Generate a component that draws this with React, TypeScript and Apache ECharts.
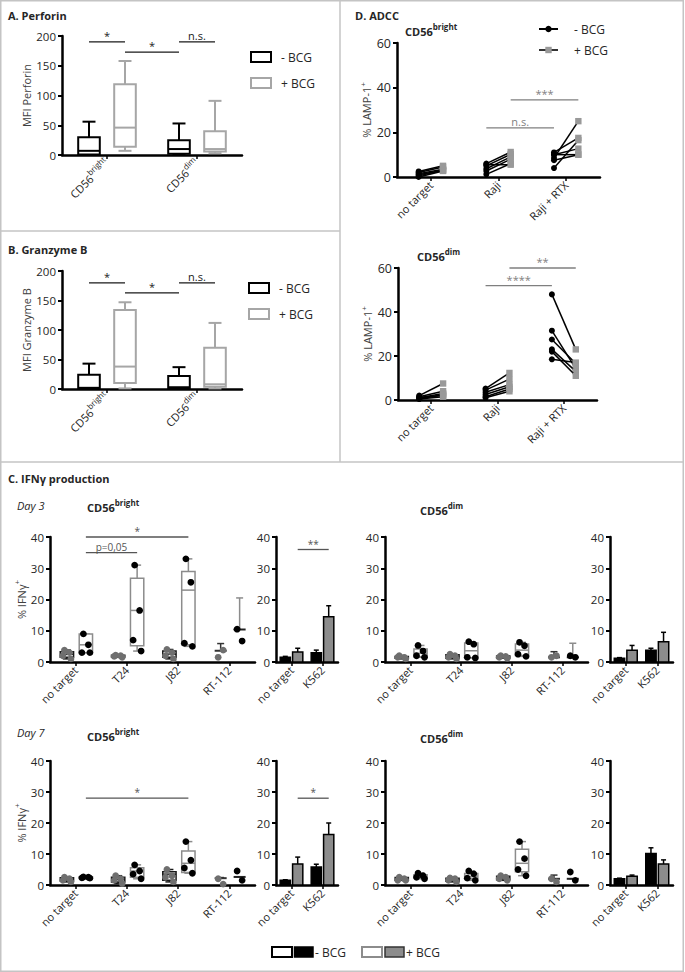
import React, { useEffect, useRef } from 'react';
import * as echarts from 'echarts';

const FONT = '"Open Sans", "DejaVu Sans", Arial, sans-serif';
const TEXT = '#262626';
const BORDER = '#c4c4c4';
const GRAY_BOX = '#a6a6a6';
const GRAY_C = '#8c8c8c';
const GRAY_DOT = '#6f6f6f';

// ---------------- Panels A / B ----------------
const abCategories = ['CD56bright', 'CD56dim'];
// [min, q1, median, q3, max]
const perforinMinusBCG = [[1, 1, 7, 30, 56], [0, 2, 10, 25, 53]];
const perforinPlusBCG = [[7, 14, 46, 119, 158], [3, 6, 10, 40, 91]];
const granzymeMinusBCG = [[0, 0, 2, 24, 43], [0, 1, 3, 22, 37]];
const granzymePlusBCG = [[1, 10, 38, 134, 147], [1, 4, 8, 70, 112]];
// [fromCat, fromSide, toCat, toSide, y]
const perforinSig = [[0, -1, 0, 1, 190], [0, 1, 1, -1, 173], [1, -1, 1, 1, 190]];
const perforinSigLabels = ['*', '*', 'n.s.'];
const granzymeSig = [[0, -1, 0, 1, 180], [0, 1, 1, -1, 163], [1, -1, 1, 1, 180]];
const granzymeSigLabels = ['*', '*', 'n.s.'];

// ---------------- Panel D (ADCC) ----------------
const adccCategories = ['no target', 'Raji', 'Raji + RTX'];
const adccBrightMinus = [[2.5, 2, 1.5, 1, 0.5, 0], [6, 5, 3.7, 2.7, 1.2, 5.5], [8.5, 11, 10, 4, 7.5, 10]];
const adccBrightPlus = [[5, 4.5, 3.5, 3, 3, 2.7], [11.2, 10.2, 9, 8, 6, 5.5], [25, 17.5, 12.7, 16.5, 10, 10]];
const adccBrightSig = [[1, -1, 2, -1, 22], [1, 1, 2, 1, 34.5]];
const adccBrightSigLabels = ['n.s.', '***'];
const adccDimMinus = [[2, 1.5, 1, 0.5, 1, 0.5], [5.2, 4.5, 3.5, 2.5, 1.5, 1], [48, 31.5, 27.5, 23, 22, 18.5]];
const adccDimPlus = [[7.5, 4, 3, 2.5, 2, 1.5], [12.3, 9.5, 7, 6, 5, 4], [23, 14.3, 16.6, 13, 11, 17]];
const adccDimSig = [[1, -1, 2, -1, 52], [1, 1, 2, 1, 60]];
const adccDimSigLabels = ['****', '**'];

// ---------------- Panel C (IFNγ) ----------------
const cCategories = ['no target', 'T24', 'J82', 'RT-112'];
const kCategories = ['no target', 'K562'];

// Day 3 – CD56bright
const d3BrightMinusDots = [[3.8, 3, 2, 1], [2.2, 2, 1.8, 1.5], [4, 3, 2, 1], [1.5, 3.8]];
const d3BrightPlusDots = [[9, 5.5, 3, 3], [31, 16.5, 7, 3.5], [33, 25.5, 6, 5], [10.5, 6.7]];
const d3BrightMinusBox = [[1, 1.5, 2.5, 3.3, 3.8], [1.5, 1.6, 1.9, 2.2, 2.2], [1, 1.5, 2.5, 3.5, 4]];
const d3BrightPlusBox = [[3, 3, 5.5, 9, 9], [3.5, 5.2, 16.5, 26.8, 31], [5, 5.5, 23, 29, 33]];
const d3BrightMinusMeanSd = [3.6, 2.3];
const d3BrightPlusMeanSd = [10.4, 10.1];
const d3BrightSig = [[0, 1, 2, 1, 40], [0, 1, 1, 1, 35]];
const d3BrightSigLabels = ['*', 'p=0,05'];
const d3BrightK562Minus = [[1.5, 0.3], [3, 0.8]];
const d3BrightK562Plus = [[3.2, 1.2], [14.5, 3.5]];
const d3BrightK562Sig = [[0, 1, 1, 1, 36]];
const d3BrightK562SigLabels = ['**'];

// Day 3 – CD56dim
const d3DimMinusDots = [[2, 1.5, 1.5, 1], [2.5, 2, 1.5, 1], [2, 1.8, 1.5, 1.2], [1.5, 2]];
const d3DimPlusDots = [[5.3, 3.5, 2, 1.5], [6.5, 5.7, 1.5, 1.3], [6.3, 5.2, 2.5, 1.8], [2, 1.5]];
const d3DimMinusBox = [[1, 1.2, 1.5, 1.8, 2], [1, 1.2, 1.7, 2.3, 2.5], [1.2, 1.3, 1.6, 1.9, 2]];
const d3DimPlusBox = [[1.5, 1.7, 2.8, 4.2, 5.3], [1.3, 1.4, 3.6, 6.1, 6.5], [1.8, 2.1, 3.8, 5.8, 6.3]];
const d3DimMinusMeanSd = [1.5, 1.8];
const d3DimPlusMeanSd = [1.5, 4.5];
const d3DimK562Minus = [[1.2, 0.2], [3.8, 0.6]];
const d3DimK562Plus = [[3.8, 1.5], [6.5, 3]];

// Day 7 – CD56bright
const d7BrightMinusDots = [[2.5, 2, 1.5, 1], [3, 2, 1.5, 0.5], [5, 3, 2.5, 1], [2, 0.3]];
const d7BrightPlusDots = [[2.6, 2.5, 2.3, 2.2], [6.5, 4.5, 3.5, 2], [14, 8, 5.5, 3.8], [4.5, 1.5]];
const d7BrightMinusBox = [[1, 1.3, 1.8, 2.3, 2.5], [0.5, 1, 1.8, 2.5, 3], [1, 1.5, 3.5, 4.3, 5]];
const d7BrightPlusBox = [[2.2, 2.2, 2.4, 2.6, 2.6], [2, 2.5, 4.5, 5.6, 6.5], [3.8, 4, 7, 11, 14]];
const d7BrightMinusMeanSd = [2.2, 0.2];
const d7BrightPlusMeanSd = [2.6, 0];
const d7BrightSig = [[0, 1, 2, 1, 28]];
const d7BrightSigLabels = ['*'];
const d7BrightK562Minus = [[1.5, 0.2], [5.8, 0.9]];
const d7BrightK562Plus = [[6.8, 2.2], [16.3, 3.7]];
const d7BrightK562Sig = [[0, 1, 1, 1, 28]];
const d7BrightK562SigLabels = ['*'];

// Day 7 – CD56dim
const d7DimMinusDots = [[2.5, 2, 1.5, 1.5], [2.3, 2, 1.5, 1], [3, 2.5, 2, 1.5], [2, 1]];
const d7DimPlusDots = [[3.8, 3, 2.5, 2], [4.5, 3.6, 2.2, 1.5], [14, 8.5, 5, 3], [4.2, 1.5]];
const d7DimMinusBox = [[1.5, 1.5, 2, 2.4, 2.5], [1, 1.2, 1.7, 2.2, 2.3], [1.5, 1.7, 2.2, 2.8, 3]];
const d7DimPlusBox = [[2, 2.3, 2.8, 3.3, 3.8], [1.5, 2.1, 2.7, 3.7, 4.5], [3, 4.3, 7, 11.5, 14]];
const d7DimMinusMeanSd = [2, 1.2];
const d7DimPlusMeanSd = [2, 0];
const d7DimK562Minus = [[2, 0.2], [10.2, 1.8]];
const d7DimK562Plus = [[2.8, 0.4], [6.8, 1.3]];

// ---------------- layout ----------------
const GRIDS = [
  { left: 62, top: 36, width: 180, height: 119 },
  { left: 62, top: 271, width: 180, height: 118 },
  { left: 397, top: 43, width: 203, height: 134 },
  { left: 398, top: 268, width: 199, height: 132 },
  { left: 50, top: 537, width: 205, height: 125 },
  { left: 276, top: 537, width: 62, height: 125 },
  { left: 385, top: 537, width: 203, height: 125 },
  { left: 610, top: 537, width: 63, height: 125 },
  { left: 50, top: 761, width: 205, height: 124 },
  { left: 276, top: 761, width: 62, height: 124 },
  { left: 385, top: 761, width: 203, height: 124 },
  { left: 610, top: 761, width: 63, height: 124 },
];

const JITTER = [-2.5, 2.5, -4, 4];

const labelFormatter = (v: string) =>
  v.indexOf('CD56') === 0 ? `{a|CD56}{s|${v.slice(4)}}` : v;

function xAxis(gi: number, cats: string[]) {
  return {
    type: 'category', gridIndex: gi, data: cats, boundaryGap: true,
    axisLine: { show: true, onZero: false, lineStyle: { color: '#000', width: 2.5 } },
    axisTick: { show: true, alignWithLabel: true, length: 4, lineStyle: { color: '#000', width: 1.5 } },
    axisLabel: {
      rotate: 45, interval: 0, fontSize: 11, color: TEXT, fontFamily: FONT, margin: 6,
      formatter: labelFormatter,
      rich: {
        a: { fontSize: 11, color: TEXT, fontFamily: FONT },
        s: { fontSize: 8, color: TEXT, fontFamily: FONT, padding: [0, 0, 9, 0] },
      },
    },
    splitLine: { show: false },
  };
}

function yAxis(gi: number, max: number, interval: number, name?: string, nameGap?: number) {
  return {
    type: 'value', gridIndex: gi, min: 0, max, interval,
    axisLine: { show: true, lineStyle: { color: '#000', width: 2.5 } },
    axisTick: { show: true, length: 4, lineStyle: { color: '#000', width: 2 } },
    axisLabel: { fontSize: 11.5, color: TEXT, fontFamily: FONT, margin: 6 },
    splitLine: { show: false },
    name: name || '', nameLocation: 'middle', nameGap: nameGap || 0,
    nameTextStyle: {
      fontSize: 11, color: '#404040', fontFamily: FONT,
      rich: {
        a: { fontSize: 11, color: '#404040', fontFamily: FONT },
        s: { fontSize: 8, color: '#404040', fontFamily: FONT, padding: [0, 0, 9, 0] },
      },
    },
  };
}

function base(gi: number) {
  return { type: 'custom', xAxisIndex: gi, yAxisIndex: gi, silent: true, clip: false };
}

function boxSeries(gi: number, rows: number[][], side: number, color: string, width: number, lw: number) {
  return {
    ...base(gi),
    data: rows.map((r, i) => [i, ...r]),
    renderItem: (params: any, api: any) => {
      const cat = api.value(0);
      const band = api.size([1, 0])[0];
      const cx = api.coord([cat, 0])[0] + side * band;
      const hw = (width * band) / 2;
      const cw = hw * 0.6;
      const y = (k: number) => api.coord([cat, api.value(k)])[1];
      const yMin = y(1), yQ1 = y(2), yMed = y(3), yQ3 = y(4), yMax = y(5);
      const st = { stroke: color, lineWidth: lw };
      return {
        type: 'group',
        children: [
          { type: 'line', shape: { x1: cx, y1: yMax, x2: cx, y2: yQ3 }, style: st },
          { type: 'line', shape: { x1: cx - cw, y1: yMax, x2: cx + cw, y2: yMax }, style: st },
          { type: 'line', shape: { x1: cx, y1: yQ1, x2: cx, y2: yMin }, style: st },
          { type: 'line', shape: { x1: cx - cw, y1: yMin, x2: cx + cw, y2: yMin }, style: st },
          { type: 'rect', shape: { x: cx - hw, y: yQ3, width: hw * 2, height: Math.max(yQ1 - yQ3, 0.5) }, style: { stroke: color, lineWidth: lw, fill: '#fff' } },
          { type: 'line', shape: { x1: cx - hw, y1: yMed, x2: cx + hw, y2: yMed }, style: st },
        ],
      };
    },
  };
}

function dotSeries(gi: number, groups: number[][], side: number, color: string, r: number) {
  const data: number[][] = [];
  groups.forEach((vals, cat) => vals.forEach((v, k) => data.push([cat, v, k])));
  return {
    ...base(gi),
    data,
    renderItem: (params: any, api: any) => {
      const cat = api.value(0);
      const band = api.size([1, 0])[0];
      const cx = api.coord([cat, 0])[0] + side * band + JITTER[api.value(2) % 4];
      const cy = api.coord([cat, api.value(1)])[1];
      return { type: 'circle', shape: { cx, cy, r }, style: { fill: color } };
    },
  };
}

function meanSdSeries(gi: number, cat: number, ms: number[], side: number, color: string, meanColor: string) {
  return {
    ...base(gi),
    data: [[cat, ms[0], ms[1]]],
    renderItem: (params: any, api: any) => {
      const c = api.value(0);
      const band = api.size([1, 0])[0];
      const cx = api.coord([c, 0])[0] + side * band;
      const yM = api.coord([c, api.value(1)])[1];
      const yT = api.coord([c, api.value(1) + api.value(2)])[1];
      return {
        type: 'group',
        children: [
          { type: 'line', shape: { x1: cx, y1: yM, x2: cx, y2: yT }, style: { stroke: color, lineWidth: 1.5 } },
          { type: 'line', shape: { x1: cx - 3.5, y1: yT, x2: cx + 3.5, y2: yT }, style: { stroke: color, lineWidth: 1.5 } },
          { type: 'line', shape: { x1: cx - 6, y1: yM, x2: cx + 6, y2: yM }, style: { stroke: meanColor, lineWidth: 2 } },
        ],
      };
    },
  };
}

function barSeries(gi: number, rows: number[][], side: number, fill: string, width: number) {
  return {
    ...base(gi),
    data: rows.map((r, i) => [i, r[0], r[1]]),
    renderItem: (params: any, api: any) => {
      const cat = api.value(0);
      const band = api.size([1, 0])[0];
      const cx = api.coord([cat, 0])[0] + side * band;
      const hw = (width * band) / 2;
      const yTop = api.coord([cat, api.value(1)])[1];
      const y0 = api.coord([cat, 0])[1];
      const yErr = api.coord([cat, api.value(1) + api.value(2)])[1];
      return {
        type: 'group',
        children: [
          { type: 'line', shape: { x1: cx, y1: yTop, x2: cx, y2: yErr }, style: { stroke: '#000', lineWidth: 1.5 } },
          { type: 'line', shape: { x1: cx - 2.5, y1: yErr, x2: cx + 2.5, y2: yErr }, style: { stroke: '#000', lineWidth: 1.5 } },
          { type: 'rect', shape: { x: cx - hw, y: yTop, width: hw * 2, height: y0 - yTop }, style: { fill, stroke: '#000', lineWidth: 1.5 } },
        ],
      };
    },
  };
}

function pairedSeries(gi: number, minus: number[][], plus: number[][], off: number) {
  const data: number[][] = [];
  minus.forEach((vals, cat) => vals.forEach((v, k) => data.push([cat, v, plus[cat][k]])));
  return {
    ...base(gi),
    data,
    renderItem: (params: any, api: any) => {
      const cat = api.value(0);
      const band = api.size([1, 0])[0];
      const c = api.coord([cat, 0])[0];
      const x1 = c - off * band, x2 = c + off * band;
      const y1 = api.coord([cat, api.value(1)])[1];
      const y2 = api.coord([cat, api.value(2)])[1];
      return {
        type: 'group',
        children: [
          { type: 'line', shape: { x1, y1, x2, y2 }, style: { stroke: '#000', lineWidth: 1.5 } },
          { type: 'rect', shape: { x: x2 - 3.2, y: y2 - 3.2, width: 6.4, height: 6.4 }, style: { fill: '#999' } },
          { type: 'circle', shape: { cx: x1, cy: y1, r: 3 }, style: { fill: '#000' } },
        ],
      };
    },
  };
}

function sigSeries(gi: number, rows: number[][], labels: string[], off: number, color: string, fontSize: number) {
  return {
    ...base(gi),
    data: rows,
    renderItem: (params: any, api: any) => {
      const band = api.size([1, 0])[0];
      const x1 = api.coord([api.value(0), 0])[0] + api.value(1) * off * band;
      const x2 = api.coord([api.value(2), 0])[0] + api.value(3) * off * band;
      const y = api.coord([api.value(0), api.value(4)])[1];
      return {
        type: 'group',
        children: [
          { type: 'line', shape: { x1, y1: y, x2, y2: y }, style: { stroke: color, lineWidth: 1.3 } },
          {
            type: 'text', x: (x1 + x2) / 2, y: y - 1,
            style: { text: labels[params.dataIndex], align: 'center', verticalAlign: 'bottom', fill: color, fontSize, fontFamily: FONT },
          },
        ],
      };
    },
  };
}

const C_LEFT = -0.17;
const C_RIGHT = 0.2;
const C_BOX_W = 0.26;

function cMainSeries(gi: number, minusBox: number[][], plusBox: number[][], minusMs: number[], plusMs: number[],
  minusDots: number[][], plusDots: number[][]) {
  return [
    boxSeries(gi, minusBox, C_LEFT, '#1a1a1a', C_BOX_W, 1.5),
    boxSeries(gi, plusBox, C_RIGHT, GRAY_C, C_BOX_W, 1.5),
    meanSdSeries(gi, 3, minusMs, C_LEFT, '#333', '#333'),
    meanSdSeries(gi, 3, plusMs, C_RIGHT, GRAY_C, '#222'),
    dotSeries(gi, minusDots, C_LEFT, GRAY_DOT, 3.4),
    dotSeries(gi, plusDots, C_RIGHT, '#000', 3.4),
  ];
}

function kSeries(gi: number, minus: number[][], plus: number[][]) {
  return [
    barSeries(gi, minus, -0.2, '#000', 0.33),
    barSeries(gi, plus, 0.2, GRAY_C, 0.33),
  ];
}

function txt(x: number, y: number, text: string, extra: any = {}) {
  return {
    type: 'text', x, y, silent: true,
    style: { text, fill: TEXT, fontFamily: FONT, fontSize: 11, align: 'left', verticalAlign: 'middle', ...extra },
  };
}

function supTxt(x: number, y: number, b: string, s: string) {
  return {
    type: 'text', x, y, silent: true,
    style: {
      text: `{a|${b}}{s|${s}}`, align: 'left', verticalAlign: 'middle', fill: TEXT, fontFamily: FONT,
      rich: {
        a: { fontSize: 11, fontWeight: 'bold', fill: TEXT, color: TEXT, fontFamily: FONT, lineHeight: 14 },
        s: { fontSize: 8, fontWeight: 'bold', fill: TEXT, color: TEXT, fontFamily: FONT, lineHeight: 9, padding: [0, 0, 10, 0] },
      },
    },
  };
}

function rect(x: number, y: number, w: number, h: number, fill: string, stroke: string, lw: number) {
  return { type: 'rect', silent: true, shape: { x, y, width: w, height: h }, style: { fill, stroke, lineWidth: lw } };
}

function line(x1: number, y1: number, x2: number, y2: number, stroke: string, lw: number) {
  return { type: 'line', silent: true, shape: { x1, y1, x2, y2 }, style: { stroke, lineWidth: lw } };
}

function buildOption() {
  const xAxes = [
    xAxis(0, abCategories), xAxis(1, abCategories),
    xAxis(2, adccCategories), xAxis(3, adccCategories),
    xAxis(4, cCategories), xAxis(5, kCategories), xAxis(6, cCategories), xAxis(7, kCategories),
    xAxis(8, cCategories), xAxis(9, kCategories), xAxis(10, cCategories), xAxis(11, kCategories),
  ];
  const yAxes = [
    yAxis(0, 200, 50, 'MFI Perforin', 27),
    yAxis(1, 200, 50, 'MFI Granzyme B', 27),
    yAxis(2, 60, 20, '{a|% LAMP-1}{s|+}', 22),
    yAxis(3, 60, 20, '{a|% LAMP-1}{s|+}', 22),
    yAxis(4, 40, 10, '{a|% IFNγ}{s|+}', 20),
    yAxis(5, 40, 10),
    yAxis(6, 40, 10),
    yAxis(7, 40, 10),
    yAxis(8, 40, 10, '{a|% IFNγ}{s|+}', 20),
    yAxis(9, 40, 10),
    yAxis(10, 40, 10),
    yAxis(11, 40, 10),
  ];
  yAxes[2].axisLabel.fontSize = 12.5;
  yAxes[3].axisLabel.fontSize = 12.5;

  const series: any[] = [
    boxSeries(0, perforinMinusBCG, -0.2, '#000', 0.24, 2),
    boxSeries(0, perforinPlusBCG, 0.2, GRAY_BOX, 0.24, 2),
    sigSeries(0, perforinSig, perforinSigLabels, 0.2, '#1a1a1a', 11),
    boxSeries(1, granzymeMinusBCG, -0.2, '#000', 0.24, 2),
    boxSeries(1, granzymePlusBCG, 0.2, GRAY_BOX, 0.24, 2),
    sigSeries(1, granzymeSig, granzymeSigLabels, 0.2, '#1a1a1a', 11),
    pairedSeries(2, adccBrightMinus, adccBrightPlus, 0.18),
    sigSeries(2, adccBrightSig, adccBrightSigLabels, 0.18, '#7f7f7f', 11),
    pairedSeries(3, adccDimMinus, adccDimPlus, 0.18),
    sigSeries(3, adccDimSig, adccDimSigLabels, 0.18, '#7f7f7f', 11),
    ...cMainSeries(4, d3BrightMinusBox, d3BrightPlusBox, d3BrightMinusMeanSd, d3BrightPlusMeanSd, d3BrightMinusDots, d3BrightPlusDots),
    sigSeries(4, d3BrightSig, d3BrightSigLabels, C_RIGHT, '#555', 10),
    ...kSeries(5, d3BrightK562Minus, d3BrightK562Plus),
    sigSeries(5, d3BrightK562Sig, d3BrightK562SigLabels, 0.2, '#555', 10),
    ...cMainSeries(6, d3DimMinusBox, d3DimPlusBox, d3DimMinusMeanSd, d3DimPlusMeanSd, d3DimMinusDots, d3DimPlusDots),
    ...kSeries(7, d3DimK562Minus, d3DimK562Plus),
    ...cMainSeries(8, d7BrightMinusBox, d7BrightPlusBox, d7BrightMinusMeanSd, d7BrightPlusMeanSd, d7BrightMinusDots, d7BrightPlusDots),
    sigSeries(8, d7BrightSig, d7BrightSigLabels, C_RIGHT, '#555', 10),
    ...kSeries(9, d7BrightK562Minus, d7BrightK562Plus),
    sigSeries(9, d7BrightK562Sig, d7BrightK562SigLabels, 0.2, '#555', 10),
    ...cMainSeries(10, d7DimMinusBox, d7DimPlusBox, d7DimMinusMeanSd, d7DimPlusMeanSd, d7DimMinusDots, d7DimPlusDots),
    ...kSeries(11, d7DimK562Minus, d7DimK562Plus),
  ];

  const graphic: any[] = [
    rect(0.75, 0.75, 682.5, 970.5, 'none', BORDER, 1.5),
    line(340, 0, 340, 462, BORDER, 1.5),
    line(0, 231, 340, 231, BORDER, 1.5),
    line(0, 462, 684, 462, BORDER, 1.5),
    // titles
    txt(8, 15, 'A. Perforin', { fontWeight: 'bold' }),
    txt(8, 249, 'B. Granzyme B', { fontWeight: 'bold' }),
    txt(355, 15, 'D. ADCC', { fontWeight: 'bold' }),
    txt(8, 478, 'C. IFNγ production', { fontWeight: 'bold' }),
    txt(17, 505, 'Day 3', { fontStyle: 'italic' }),
    txt(17, 732, 'Day 7', { fontStyle: 'italic' }),
    // A legend
    rect(251, 52, 20, 10, '#fff', '#000', 2),
    txt(281, 57, '- BCG', { fontSize: 12 }),
    rect(251, 78, 20, 10, '#fff', GRAY_BOX, 2),
    txt(281, 83, '+ BCG', { fontSize: 12 }),
    // B legend
    rect(249, 283, 20, 10, '#fff', '#000', 2),
    txt(279, 288, '- BCG', { fontSize: 12 }),
    rect(249, 309, 20, 10, '#fff', GRAY_BOX, 2),
    txt(279, 314, '+ BCG', { fontSize: 12 }),
    // D legend
    line(539, 29, 558, 29, '#000', 2),
    { type: 'circle', silent: true, shape: { cx: 548.5, cy: 29, r: 3.2 }, style: { fill: '#000' } },
    txt(574, 29, '- BCG', { fontSize: 12 }),
    line(539, 50, 558, 50, '#333', 2),
    rect(545.3, 46.8, 6.4, 6.4, '#999', 'none', 0),
    txt(574, 50, '+ BCG', { fontSize: 12 }),
    // subtitles
    supTxt(405, 31, 'CD56', 'bright'),
    supTxt(417, 256, 'CD56', 'dim'),
    supTxt(87, 507, 'CD56', 'bright'),
    supTxt(420, 510, 'CD56', 'dim'),
    supTxt(87, 736, 'CD56', 'bright'),
    supTxt(420, 738, 'CD56', 'dim'),
    // bottom legend
    rect(272, 947, 20, 10, '#fff', '#000', 2),
    rect(294.5, 947, 18.5, 10, '#000', '#000', 1.5),
    txt(315, 952, '- BCG', { fontSize: 12 }),
    rect(362, 947, 20, 10, '#fff', GRAY_C, 2),
    rect(385, 947, 19, 10, GRAY_C, '#333', 1.5),
    txt(406, 952, '+ BCG', { fontSize: 12 }),
  ];

  return {
    animation: false,
    backgroundColor: '#fff',
    grid: GRIDS.map((g) => ({ ...g, containLabel: false })),
    xAxis: xAxes,
    yAxis: yAxes,
    series,
    graphic,
  };
}

export default function App() {
  const ref = useRef<HTMLDivElement>(null);
  useEffect(() => {
    if (!ref.current) return;
    const chart = echarts.init(ref.current, undefined, { renderer: 'svg' });
    chart.setOption(buildOption() as any);
    return () => chart.dispose();
  }, []);
  return <div ref={ref} style={{ position: 'absolute', left: 0, top: 0, width: 685, height: 972, background: '#fff' }} />;
}
